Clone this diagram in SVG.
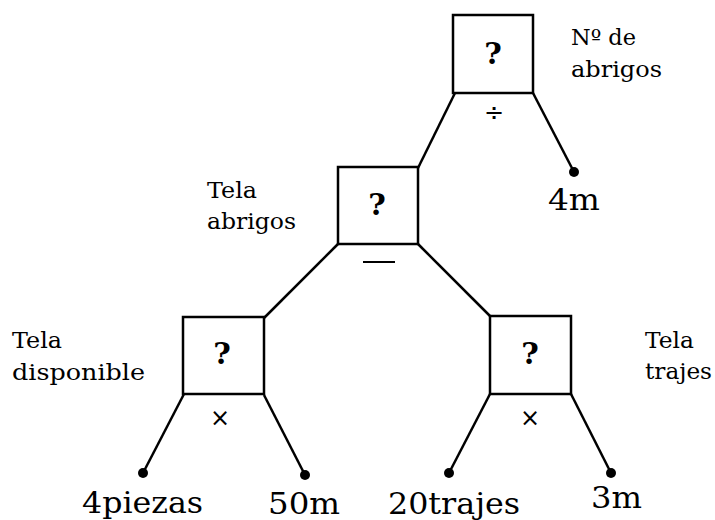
<svg xmlns="http://www.w3.org/2000/svg" width="715" height="520" viewBox="0 0 715 520">
<style>
.box{fill:#fff;stroke:#000;stroke-width:2.5}
.ln{stroke:#000;stroke-width:2.5;fill:none}
.dot{fill:#000}
.q{font-family:"DejaVu Serif",serif;font-size:30px;font-weight:bold;text-anchor:middle}
.lab{font-family:"DejaVu Serif",serif;font-size:22px}
.val{font-family:"DejaVu Serif",serif;font-size:30px}
.op{font-family:"DejaVu Sans",sans-serif;font-size:24px;text-anchor:middle}
</style>
<rect width="715" height="520" fill="#fff"/>
<g id="connectors">
<line class="ln" x1="455" y1="93" x2="418" y2="168"/>
<line class="ln" x1="533" y1="93" x2="574" y2="172"/>
<line class="ln" x1="338" y1="244" x2="264" y2="318"/>
<line class="ln" x1="418" y1="244" x2="490" y2="316"/>
<line class="ln" x1="184" y1="394" x2="143" y2="473"/>
<line class="ln" x1="264" y1="395" x2="305" y2="475"/>
<line class="ln" x1="490" y1="394" x2="449" y2="473"/>
<line class="ln" x1="571" y1="394" x2="611" y2="473"/>
<circle class="dot" cx="574" cy="172" r="5"/>
<circle class="dot" cx="143" cy="473" r="5"/>
<circle class="dot" cx="305" cy="475" r="5"/>
<circle class="dot" cx="449" cy="473" r="5"/>
<circle class="dot" cx="611" cy="473" r="5"/>
</g>
<g id="node-top">
<rect class="box" x="453" y="15" width="80" height="78"/>
<text class="q" x="493" y="64">?</text>
<text class="op" x="494" y="121">÷</text>
<text class="lab" x="571" y="45" textLength="65" lengthAdjust="spacingAndGlyphs">Nº de</text>
<text class="lab" x="571" y="77" textLength="91" lengthAdjust="spacingAndGlyphs">abrigos</text>
</g>
<g id="node-mid">
<rect class="box" x="338" y="167" width="80" height="77"/>
<text class="q" x="377" y="215">?</text>
<line x1="363" y1="262" x2="395" y2="262" stroke="#000" stroke-width="2"/>
<text class="lab" x="207" y="198" textLength="50" lengthAdjust="spacingAndGlyphs">Tela</text>
<text class="lab" x="207" y="229" textLength="89" lengthAdjust="spacingAndGlyphs">abrigos</text>
</g>
<g id="node-left">
<rect class="box" x="183" y="317" width="81" height="77"/>
<text class="q" x="222" y="364">?</text>
<text class="op" x="220" y="426">×</text>
<text class="lab" x="12" y="348" textLength="50" lengthAdjust="spacingAndGlyphs">Tela</text>
<text class="lab" x="12" y="380" textLength="133" lengthAdjust="spacingAndGlyphs">disponible</text>
</g>
<g id="node-right">
<rect class="box" x="490" y="316" width="81" height="78"/>
<text class="q" x="530" y="364">?</text>
<text class="op" x="530" y="426">×</text>
<text class="lab" x="645" y="348" textLength="49" lengthAdjust="spacingAndGlyphs">Tela</text>
<text class="lab" x="645" y="379" textLength="67" lengthAdjust="spacingAndGlyphs">trajes</text>
</g>
<g id="leaves">
<text class="val" x="82" y="513" textLength="121" lengthAdjust="spacingAndGlyphs">4piezas</text>
<text class="val" x="268" y="514" textLength="72" lengthAdjust="spacingAndGlyphs">50m</text>
<text class="val" x="388" y="514" textLength="132" lengthAdjust="spacingAndGlyphs">20trajes</text>
<text class="val" x="591" y="508" textLength="51" lengthAdjust="spacingAndGlyphs">3m</text>
<text class="val" x="548" y="210" textLength="52" lengthAdjust="spacingAndGlyphs">4m</text>
</g>
</svg>
